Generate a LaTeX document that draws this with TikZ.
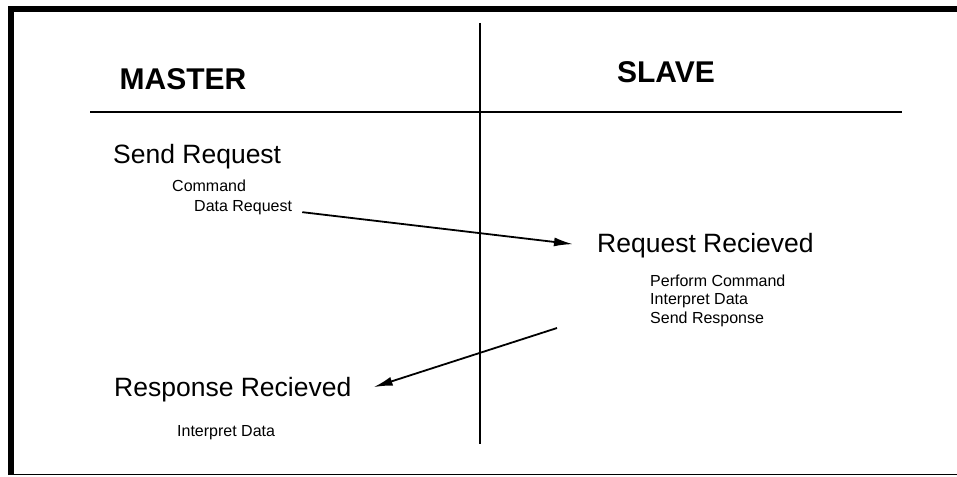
\documentclass[tikz,border=0pt]{standalone}
\usepackage{fontspec}
\setmainfont{Liberation Sans}
\usetikzlibrary{arrows.meta}

\tikzset{
  heading/.style={font=\fontsize{30}{36}\selectfont\bfseries, inner sep=0pt},
  stage/.style={font=\fontsize{26.5}{30}\selectfont, inner sep=0pt, anchor=base west},
  detail/.style={font=\fontsize{16}{18.5}\selectfont, inner sep=0pt, anchor=base west, align=left},
  flow/.style={line width=1.8pt, -{Latex[length=19pt,width=9pt]}}
}

\begin{document}
\begin{tikzpicture}[x=1pt,y=-1pt]
    \useasboundingbox (0,0) rectangle (957,476);
    % frame
    \draw [line width=6pt](10.5,475)--(10.5,9.5)--(957,9.5);
    \draw [line width=1.5pt](8,474.5)--(957,474.5);
    % columns
    \draw [line width=2.2pt](480,23)--(480,444);
    \draw [line width=2.5pt](90,112)--(902,112);
    \node [heading] (master) at (183,79) {MASTER};
    \node [heading] (slave) at (666,72) {SLAVE};
    % master side
    \node [stage] (sendreq) at (113,163) {Send Request};
    \node [detail] (cmd) at (172,191) {Command};
    \node [detail] (datareq) at (194,211) {Data Request};
    \node [stage] (resprecv) at (114,396) {Response Recieved};
    \node [detail] (interp) at (177,436) {Interpret Data};
    % slave side
    \node [stage] (reqrecv) at (597,252) {Request Recieved};
    \node [detail] (perform) at (650,323) {Perform Command\\Interpret Data\\Send Response};
    % messages
    \draw [flow] ([xshift=10pt,yshift=-5pt]datareq.east) -- ([xshift=-24pt,yshift=1pt]reqrecv.west);
    \draw [flow] ([xshift=-93pt,yshift=-1.5pt]perform.south west) -- ([xshift=22pt,yshift=2pt]resprecv.east);
\end{tikzpicture}
\end{document}
